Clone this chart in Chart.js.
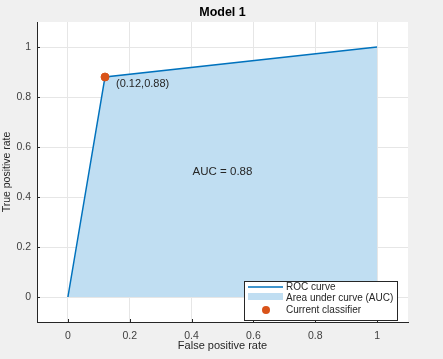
<!DOCTYPE html>
<html>
<head>
<meta charset="utf-8">
<script src="https://cdn.jsdelivr.net/npm/chart.js@4"></script>
<style>
  html, body { margin: 0; padding: 0; background: #f0f0f0; }
  #wrap { width: 443px; height: 359px; }
</style>
</head>
<body>
<div id="wrap"><canvas id="rocChart" width="443" height="359"></canvas></div>
<script>
// ROC data
const fpr = [0, 0.12, 1];
const tpr = [0, 0.88, 1];
const classifierPoint = [0.12, 0.88];
const aucValue = 0.88;
const tickValues = [0, 0.2, 0.4, 0.6, 0.8, 1];

const FONT = 'Liberation Sans, Arial, sans-serif';

// title, texts inside the axes + MATLAB style legend
const annotations = {
    id: 'annotations',
    afterDatasetsDraw(chart) {
        const c = chart.ctx;
        const xs = chart.scales.x, ys = chart.scales.y;
        const a = chart.chartArea;
        c.save();
        c.fillStyle = '#000000';
        c.font = 'bold 12.5px ' + FONT;
        c.textAlign = 'center';
        c.textBaseline = 'middle';
        c.fillText('Model 1', (a.left + a.right) / 2, 13);

        c.fillStyle = '#262626';
        c.font = '11px ' + FONT;
        c.textAlign = 'left';
        c.fillText('(' + classifierPoint[0] + ',' + classifierPoint[1] + ')',
            xs.getPixelForValue(classifierPoint[0]) + 11, ys.getPixelForValue(classifierPoint[1]) + 7);
        c.textAlign = 'center';
        c.font = '11.5px ' + FONT;
        c.fillText('AUC = ' + aucValue, xs.getPixelForValue(0.5), ys.getPixelForValue(0.5));

        // inward tick marks
        c.strokeStyle = '#262626';
        c.lineWidth = 1;
        tickValues.forEach(v => {
            const px = Math.round(xs.getPixelForValue(v)) + 0.5;
            c.beginPath(); c.moveTo(px, a.bottom); c.lineTo(px, a.bottom - 3); c.stroke();
            const py = Math.round(ys.getPixelForValue(v)) + 0.5;
            c.beginPath(); c.moveTo(a.left, py); c.lineTo(a.left + 3, py); c.stroke();
        });

        // legend
        const lx = a.right - 164, ly = a.bottom - 41, lw = 153, lh = 39;
        c.fillStyle = '#ffffff';
        c.fillRect(lx, ly, lw, lh);
        c.strokeStyle = '#262626';
        c.strokeRect(lx + 0.5, ly + 0.5, lw, lh);
        c.strokeStyle = '#0072bd';
        c.lineWidth = 1.5;
        c.beginPath(); c.moveTo(lx + 4, ly + 6); c.lineTo(lx + 39, ly + 6); c.stroke();
        c.fillStyle = '#c0def2';
        c.fillRect(lx + 4, ly + 12, 35, 7);
        c.fillStyle = '#d95319';
        c.beginPath(); c.arc(lx + 22, ly + 29, 4, 0, Math.PI * 2); c.fill();
        c.fillStyle = '#262626';
        c.font = '10px ' + FONT;
        c.textAlign = 'left';
        c.fillText('ROC curve', lx + 42, ly + 6);
        c.fillText('Area under curve (AUC)', lx + 42, ly + 17);
        c.fillText('Current classifier', lx + 42, ly + 29);
        c.restore();
    }
};

const plotBg = {
    id: 'plotBg',
    beforeDraw(chart) {
        const a = chart.chartArea;
        chart.ctx.save();
        chart.ctx.fillStyle = '#ffffff';
        chart.ctx.fillRect(a.left, a.top, a.right - a.left, a.bottom - a.top);
        chart.ctx.restore();
    }
};

const ctx = document.getElementById('rocChart').getContext('2d');
const rocChart = new Chart(ctx, {
    type: 'scatter',
    data: {
        datasets: [{
            label: 'Current classifier',
            data: [{x: classifierPoint[0], y: classifierPoint[1]}],
            backgroundColor: '#d95319',
            borderColor: '#d95319',
            pointRadius: 4,
            showLine: false
        }, {
            label: 'ROC curve',
            data: fpr.map((x, i) => ({x: x, y: tpr[i]})),
            borderColor: '#0072bd',
            backgroundColor: '#c0def2',
            borderWidth: 1.5,
            pointRadius: 0,
            showLine: true,
            fill: 'origin'
        }]
    },
    options: {
        responsive: false,
        animation: false,
        layout: { padding: { left: 0, right: 35, top: 22, bottom: 0 } },
        plugins: {
            legend: { display: false },
            tooltip: { enabled: false },
            title: { display: false }
        },
        scales: {
            x: {
                type: 'linear',
                min: -0.1,
                max: 1.1,
                afterBuildTicks: s => { s.ticks = tickValues.map(v => ({value: v})); },
                afterFit: s => { s.height = 37; },
                ticks: { color: '#404040', font: { family: FONT, size: 10.5 }, padding: 8, maxRotation: 0, callback: v => String(v) },
                grid: { color: '#e6e6e6', drawTicks: false },
                border: { color: '#262626', width: 1 },
                title: { display: true, text: 'False positive rate', color: '#262626', font: { family: FONT, size: 11 }, padding: { top: 0, bottom: 6 } }
            },
            y: {
                type: 'linear',
                min: -0.1,
                max: 1.1,
                afterBuildTicks: s => { s.ticks = tickValues.map(v => ({value: v})); },
                afterFit: s => { s.width = 37; },
                ticks: { color: '#404040', font: { family: FONT, size: 10.5 }, padding: 6, callback: v => String(v) },
                grid: { color: '#e6e6e6', drawTicks: false },
                border: { color: '#262626', width: 1 },
                title: { display: true, text: 'True positive rate', color: '#262626', font: { family: FONT, size: 10.5 }, padding: { top: 1, bottom: 0 } }
            }
        }
    },
    plugins: [plotBg, annotations]
});
</script>
</body>
</html>
